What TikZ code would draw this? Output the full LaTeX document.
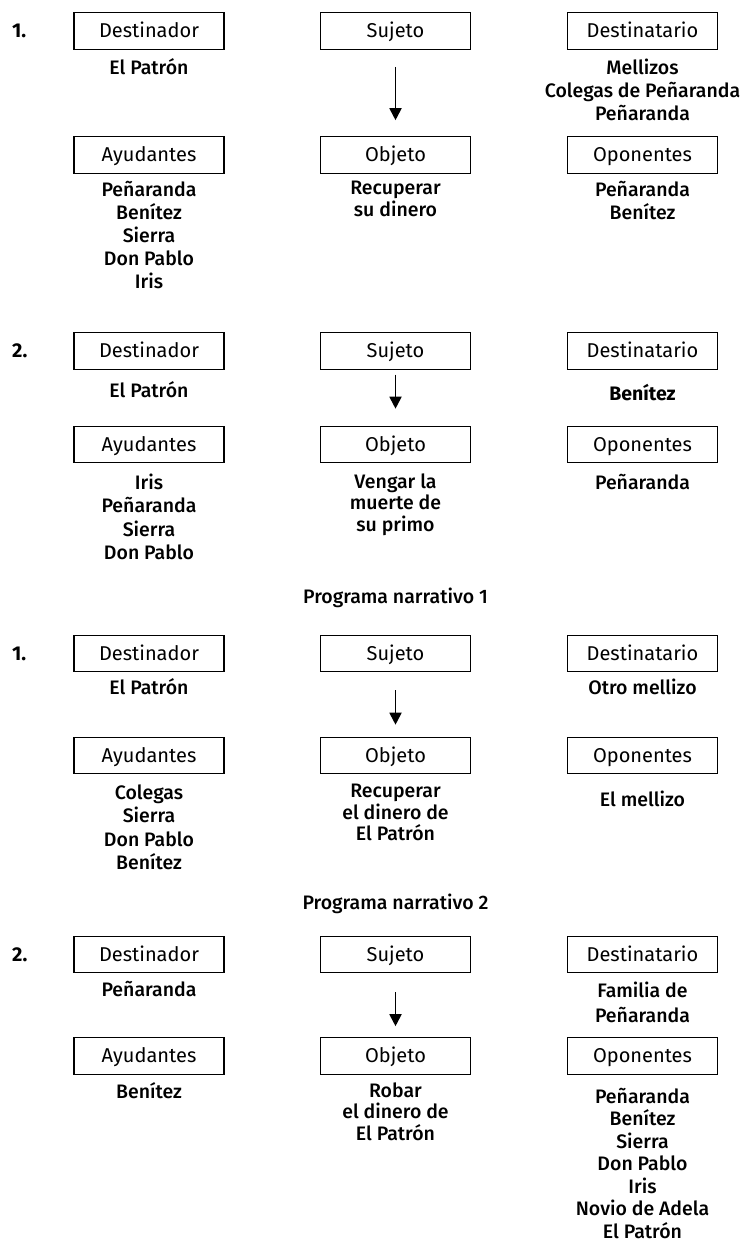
\documentclass[tikz,border=0pt]{standalone}
\usepackage{fontspec}
\setmainfont{Fira Sans}
\newfontfamily\medfont{Fira Sans Medium}
\usetikzlibrary{positioning,arrows.meta}

\tikzset{
  actant/.style={draw, line width=1.1pt, minimum width=150pt, minimum height=36.5pt,
    inner sep=0pt, text height=13.5pt, text depth=0pt, font=\fontsize{20}{23}\selectfont},
  names/.style={align=center, anchor=north, inner sep=0pt,
    execute at begin node={\rule{0pt}{16pt}}, font=\medfont\fontsize{19.5}{23}\selectfont},
  objlist/.style={names, font=\medfont\fontsize{19.5}{21.5}\selectfont},
  num/.style={anchor=west, inner sep=0pt, text height=13.5pt, text depth=0pt,
    font=\bfseries\fontsize{20}{23}\selectfont},
  title/.style={inner sep=0pt, text height=13.5pt, text depth=0pt,
    font=\medfont\fontsize{19.5}{23}\selectfont},
  flecha/.style={-{Triangle[length=12pt,width=12pt]}, line width=1.8pt},
}

\begin{document}
\begin{tikzpicture}[x=1pt, y=-1pt]
    \useasboundingbox (0,0) rectangle (744,1243);

    % first model
    \node[num] (n1) at (12,31) {1.};
    \node[actant] (d1) at (149,31) {Destinador};
    \node[actant] (s1) at (395.5,31) {Sujeto};
    \node[actant] (t1) at (642.5,31) {Destinatario};
    \node[actant] (a1) at (149,155) {Ayudantes};
    \node[actant] (o1) at (395.5,155) {Objeto};
    \node[actant] (p1) at (642.5,155) {Oponentes};

    \node[names, below=8.5pt of d1] (d1n) {El Patrón};
    \node[names, below=8.5pt of t1] (t1n) {Mellizos\\Colegas de Peñaranda\\Peñaranda};
    \node[names, below=7.5pt of a1] (a1n) {Peñaranda\\Benítez\\Sierra\\Don Pablo\\Iris};
    \node[objlist, below=7.5pt of o1] (o1n) {Recuperar\\su dinero};
    \node[names, below=7.5pt of p1] (p1n) {Peñaranda\\Benítez};

    \draw[flecha] ([yshift=-17pt]s1.south) -- ([yshift=16pt]o1.north);

    % second model
    \node[num] (n2) at (12,350.8) {2.};
    \node[actant] (d2) at (149,350.8) {Destinador};
    \node[actant] (s2) at (395.5,350.8) {Sujeto};
    \node[actant] (t2) at (642.5,350.8) {Destinatario};
    \node[actant] (a2) at (149,444.5) {Ayudantes};
    \node[actant] (o2) at (395.5,444.5) {Objeto};
    \node[actant] (p2) at (642.5,444.5) {Oponentes};

    \node[names, below=11.75pt of d2] (d2n) {El Patrón};
    \node[names, below=14.75pt of t2, font=\bfseries\fontsize{19.5}{23}\selectfont] (t2n) {Benítez};
    \node[names, below=10pt of a2, font=\medfont\fontsize{19.5}{23.5}\selectfont] (a2n) {Iris\\Peñaranda\\Sierra\\Don Pablo};
    \node[objlist, below=10pt of o2] (o2n) {Vengar la\\muerte de\\su primo};
    \node[names, below=10pt of p2] (p2n) {Peñaranda};

    \draw[flecha] ([yshift=-5pt]s2.south) -- ([yshift=17pt]o2.north);

    % programa narrativo 1
    \node[title] (pn1) at (395.5,597) {Programa narrativo 1};

    \node[num] (n3) at (12,653.5) {1.};
    \node[actant] (d3) at (149,653.5) {Destinador};
    \node[actant] (s3) at (395.5,653.5) {Sujeto};
    \node[actant] (t3) at (642.5,653.5) {Destinatario};
    \node[actant] (a3) at (149,755.5) {Ayudantes};
    \node[actant] (o3) at (395.5,755.5) {Objeto};
    \node[actant] (p3) at (642.5,755.5) {Oponentes};

    \node[names, below=6pt of d3] (d3n) {El Patrón};
    \node[names, below=6pt of t3] (t3n) {Otro mellizo};
    \node[names, below=10pt of a3, font=\medfont\fontsize{19.5}{23.5}\selectfont] (a3n) {Colegas\\Sierra\\Don Pablo\\Benítez};
    \node[objlist, below=10pt of o3] (o3n) {Recuperar\\el dinero de\\El Patrón};
    \node[names, below=16pt of p3] (p3n) {El mellizo};

    \draw[flecha] ([yshift=-18pt]s3.south) -- ([yshift=12pt]o3.north);

    % programa narrativo 2
    \node[title] (pn2) at (395.5,903) {Programa narrativo 2};

    \node[num] (n4) at (12,954.5) {2.};
    \node[actant] (d4) at (149,954.5) {Destinador};
    \node[actant] (s4) at (395.5,954.5) {Sujeto};
    \node[actant] (t4) at (642.5,954.5) {Destinatario};
    \node[actant] (a4) at (149,1056) {Ayudantes};
    \node[actant] (o4) at (395.5,1056) {Objeto};
    \node[actant] (p4) at (642.5,1056) {Oponentes};

    \node[names, below=7pt of d4] (d4n) {Peñaranda};
    \node[names, below=8pt of t4, font=\medfont\fontsize{19.5}{25}\selectfont] (t4n) {Familia de\\Peñaranda};
    \node[names, below=7.5pt of a4] (a4n) {Benítez};
    \node[objlist, below=7.5pt of o4] (o4n) {Robar\\el dinero de\\El Patrón};
    \node[names, below=13pt of p4, font=\medfont\fontsize{19.5}{22.5}\selectfont] (p4n) {Peñaranda\\Benítez\\Sierra\\Don Pablo\\Iris\\Novio de Adela\\El Patrón};

    \draw[flecha] ([yshift=-19pt]s4.south) -- ([yshift=11pt]o4.north);

\end{tikzpicture}
\end{document}
